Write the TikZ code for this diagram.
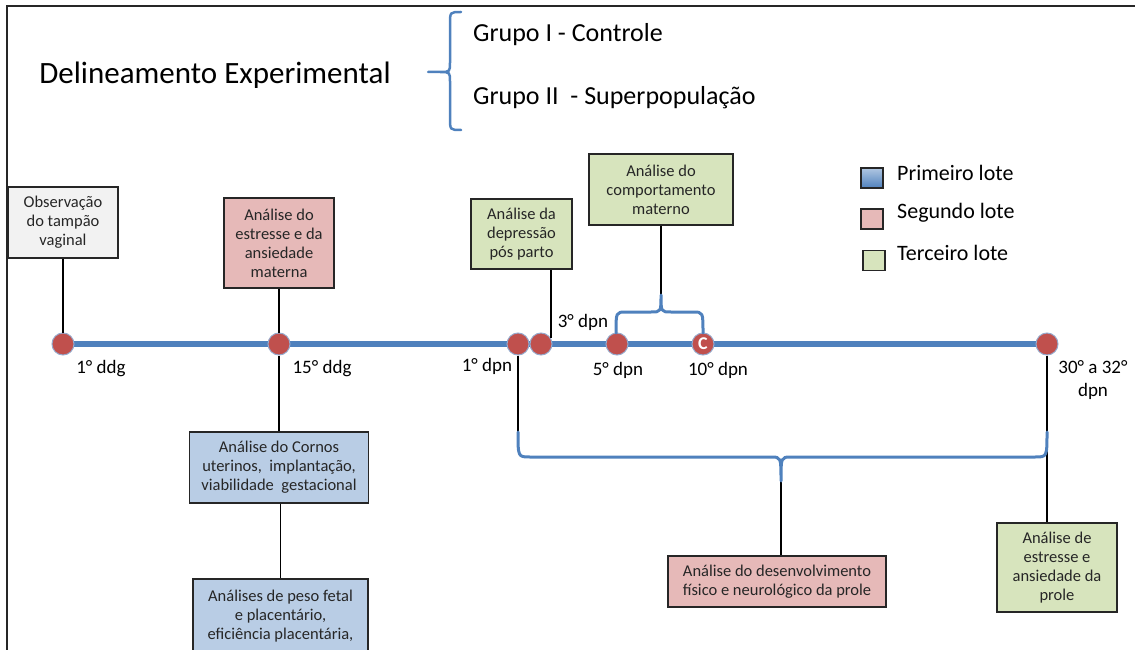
\documentclass[tikz,border=0pt]{standalone}
\usepackage{fontspec}
\setmainfont{Carlito}
\definecolor{azul}{HTML}{4F81BD}
\definecolor{azulclaro}{HTML}{B9CDE5}
\definecolor{vermelho}{HTML}{C0504D}
\definecolor{rosa}{HTML}{E6B9B8}
\definecolor{verde}{HTML}{D7E4BD}
\definecolor{cinza}{HTML}{F2F2F2}
\definecolor{borda}{HTML}{262626}
\tikzset{
  caixa/.style={draw=borda, line width=1.8pt, align=center, inner sep=2pt,
    font=\fontsize{16.5}{19}\selectfont, text=borda},
  marco/.style={circle, fill=vermelho, draw={rgb,255:red,150;green,170;blue,205},
    line width=1pt, minimum size=22pt, inner sep=0pt},
  haste/.style={line width=1.8pt, black},
  eixo/.style={line width=6pt, azul},
  chave/.style={line width=3pt, azul, line cap=round, line join=round},
  rotulo/.style={font=\fontsize{19}{23}\selectfont, align=center},
  legenda/.style={draw=borda, line width=1.5pt, minimum width=22pt,
    minimum height=20pt, inner sep=0pt},
  legtexto/.style={font=\fontsize{22}{26}\selectfont, anchor=west, inner sep=0pt}
}
\begin{document}
\begin{tikzpicture}[x=1pt, y=-1pt]
  \useasboundingbox (0,0) rectangle (1135,650);
  \draw[line width=2pt, borda] (7,652) -- (7,6) -- (1135,6);

  \node[font=\fontsize{31}{36}\selectfont] (titulo) at (215,75) {Delineamento Experimental};
  \node[font=\fontsize{26}{30}\selectfont, anchor=west, inner sep=0pt] (grupo1) at (473,35) {Grupo I - Controle};
  \node[font=\fontsize{26}{30}\selectfont, anchor=west, inner sep=0pt] (grupo2) at (473,98) {Grupo II\ \ - Superpopulação};
  \coordinate (tchA) at (461,12);
  \coordinate (tchB) at (461,130);
  \coordinate (tchT) at (428,72);
  \draw[chave, line width=2.5pt] (tchA) .. controls (450,12) .. (450,24) -- (450,62)
    .. controls (450,72) .. (440,72) -- (tchT) (440,72) .. controls (450,72) .. (450,82) -- (450,118)
    .. controls (450,130) .. (tchB);

  \node[legenda, top color=azul!45!white, bottom color=azul] (lote1) at (872,178) {};
  \node[legenda, fill=rosa] (lote2) at (872,219) {};
  \node[legenda, fill=verde] (lote3) at (874,260.5) {};
  \node[legtexto] (txt1) at (897,173) {Primeiro lote};
  \node[legtexto] (txt2) at (897,213) {Segundo lote};
  \node[legtexto] (txt3) at (897,253) {Terceiro lote};

  \node[caixa, fill=cinza, minimum width=110pt, minimum height=71pt] (obs) at (63,222.5) {Observação\\do tampão\\vaginal};
  \node[caixa, fill=rosa, minimum width=110pt, minimum height=90pt] (estmat) at (279,243) {Análise do\\estresse e da\\ansiedade\\materna};
  \node[caixa, fill=verde, minimum width=101pt, minimum height=70pt] (dep) at (521.5,234) {Análise da\\depressão\\pós parto};
  \node[caixa, fill=verde, minimum width=144pt, minimum height=71pt] (comp) at (661,189.5) {Análise do\\comportamento\\materno};
  \node[caixa, fill=azulclaro, minimum width=179pt, minimum height=71pt] (cornos) at (279,467.5) {Análise do Cornos\\uterinos,\ \ implantação,\\viabilidade\ \ gestacional};
  \node[caixa, fill=azulclaro, minimum width=175pt, minimum height=74pt, anchor=north] (peso) at (280.5,578) {Análises de peso fetal\\e placentário,\\eficiência placentária,};
  \node[caixa, fill=rosa, minimum width=218pt, minimum height=51pt] (desenv) at (777,581.5) {Análise do desenvolvimento\\físico e neurológico da prole};
  \node[caixa, fill=verde, minimum width=120pt, minimum height=89pt] (estprole) at (1057,567.5) {Análise de\\estresse e\\ansiedade da\\prole};

  \coordinate (ini) at (63,344);
  \coordinate (fim) at (1047,344);
  \draw[eixo] (ini) -- (fim);
  \node[marco] (g1) at (63,344) {};
  \node[marco] (g15) at (279,344) {};
  \node[marco] (p1) at (518,344) {};
  \node[marco] (p3) at (541,344) {};
  \node[marco] (p5) at (617,344) {};
  \node[marco, text=white, font=\fontsize{18}{18}\selectfont\bfseries] (p10) at (703,344) {C};
  \node[marco] (p30) at (1047,344) {};

  \node[rotulo] (lg1) at (101,369) {1° ddg};
  \node[rotulo] (lg15) at (322,369) {15° ddg};
  \node[rotulo] (lp1) at (487,366) {1° dpn};
  \node[rotulo] (lp3) at (583,322) {3° dpn};
  \node[rotulo] (lp5) at (618,370) {5° dpn};
  \node[rotulo] (lp10) at (718,370) {10° dpn};
  \node[rotulo] (lp30) at (1093,380) {30° a 32°\\dpn};

  \coordinate (chE) at (616,333);
  \coordinate (chD) at (703,333);
  \coordinate (chT) at (661,295);
  \coordinate (chgE) at (518,432);
  \coordinate (chgD) at (1047,432);
  \coordinate (chgT) at (781,481);

  \draw[haste] (obs) -- (g1);
  \draw[haste] (estmat) -- (g15);
  \draw[haste] (g15) -- (cornos);
  \draw[haste] (cornos.south -| peso.north) -- (peso.north);
  \draw[haste] (dep.south -| p3.30) -- (p3.30);
  \draw[haste] (comp) -- (chT);
  \draw[haste] (p1) -- (chgE);
  \draw[haste] (chgT) -- (chgT |- desenv.north);
  \draw[haste] (p30) -- (p30 |- estprole.north);

  \draw[chave] (chE) .. controls (616,312) .. (626,312) -- (651,312)
    .. controls (661,312) .. (chT) .. controls (661,312) .. (671,312) -- (693,312)
    .. controls (703,312) .. (chD);
  \draw[chave] (chgE) .. controls (518,457) .. (530,457) -- (771,457)
    .. controls (781,457) .. (chgT) .. controls (781,457) .. (791,457) -- (1035,457)
    .. controls (1047,457) .. (chgD);
\end{tikzpicture}
\end{document}
